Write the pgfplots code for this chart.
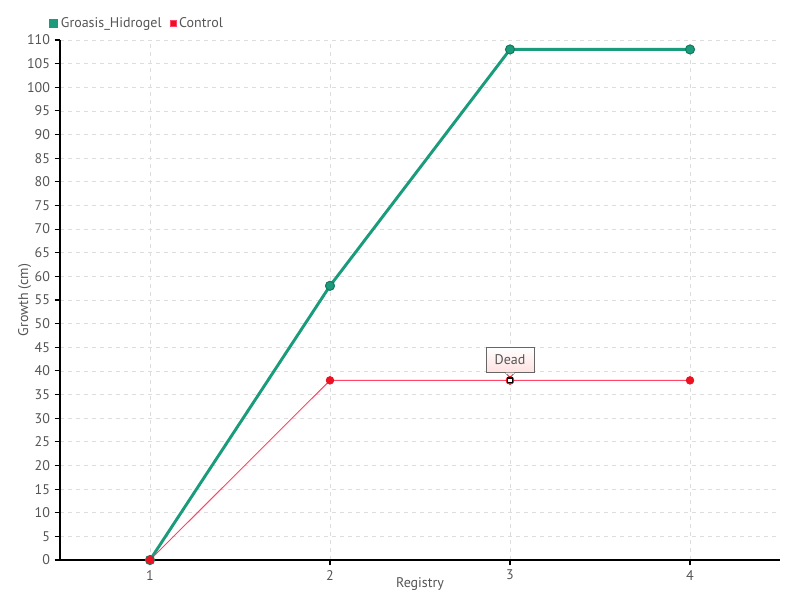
\documentclass[border=0pt]{standalone}
\usepackage{pgfplots}
\pgfplotsset{compat=1.18}
\usepackage{fontspec}
\setmainfont{PT Sans}
\definecolor{grn}{HTML}{1A9C7C}
\definecolor{grndk}{HTML}{167A60}
\definecolor{rd}{HTML}{EE1122}
\definecolor{rdl}{HTML}{FF4466}
\definecolor{txt}{HTML}{555555}
\definecolor{gridc}{HTML}{DDDDDD}
\begin{document}
\begin{tikzpicture}[x=0.75pt,y=0.75pt]
\begin{axis}[name=ax,
  scale only axis, width=540pt, height=390pt,
  xmin=0.5, xmax=4.5, ymin=0, ymax=110,
  axis x line*=bottom, axis y line*=left,
  axis line style={black, line width=0.8pt, -},
  xtick={1,2,3,4}, ytick distance=5,
  tick style={black, line width=0.8pt},
  major tick length=4pt,
  xtick align=outside, ytick align=outside,
  grid=major, major grid style={gridc, dashed, line width=0.6pt},
  tick label style={font=\fontsize{10.5}{12}\selectfont, text=txt},
  /pgf/number format/assume math mode=true,
  xlabel={Registry}, ylabel={Growth (cm)},
  label style={font=\fontsize{10.5}{12}\selectfont, text=txt},
  xlabel style={yshift=9pt},
  ylabel style={yshift=-10pt},
  legend style={at={(rel axis cs:-0.015,1.015)}, anchor=south west, draw=none, fill=none,
    font=\fontsize{10.5}{12}\selectfont, text=txt, legend columns=2,
    /tikz/every even column/.append style={column sep=4pt}, inner sep=0pt},
  legend image code/.code={\fill[#1] (0pt,-2.2pt) rectangle (4.4pt,2.2pt);},
  legend cell align=left,
  clip=false,
]
\addplot[grn, line width=2.2pt, mark=*, mark size=3.4pt, mark options={fill=grn, draw=grndk, line width=0.8pt}]
  coordinates {(1,0) (2,58) (3,108) (4,108)};
\addlegendentry{Groasis\_Hidrogel}
\addplot[color=rd, draw=rdl, line width=0.7pt, mark=*, mark size=2.9pt, mark options={fill=rd, draw=rd, line width=0.5pt}]
  coordinates {(1,0) (2,38) (3,38) (4,38)};
\addlegendentry{Control}
\addplot[only marks, mark=*, mark size=3pt, mark options={fill=rd, draw=rd}, forget plot]
  coordinates {(3,38)};
\addplot[only marks, mark=square*, mark size=1.8pt, mark options={fill=white, draw=black, line width=0.9pt}, forget plot]
  coordinates {(3,38)};
\node[draw=gray!80!black, top color=white, bottom color=red!12, line width=0.6pt, inner sep=3pt, minimum width=36pt, minimum height=19pt,
  font=\fontsize{10.5}{12}\selectfont, text=txt, anchor=south] (lab) at ([yshift=5.5pt]axis cs:3,38) {Dead};
\fill[red!10, draw=gray!80!black, line width=0.6pt] ([xshift=-3.5pt,yshift=0.3pt]lab.south) -- ([yshift=-3.5pt]lab.south) -- ([xshift=3.5pt,yshift=0.3pt]lab.south);
\fill[red!10] ([xshift=-3pt,yshift=0.4pt]lab.south) rectangle ([xshift=3pt,yshift=-0.2pt]lab.south);
\end{axis}
\pgfresetboundingbox
\path[use as bounding box] ([shift={(-45pt,-30pt)}]ax.south west) rectangle ([shift={(15pt,30pt)}]ax.north east);
\end{tikzpicture}
\end{document}
